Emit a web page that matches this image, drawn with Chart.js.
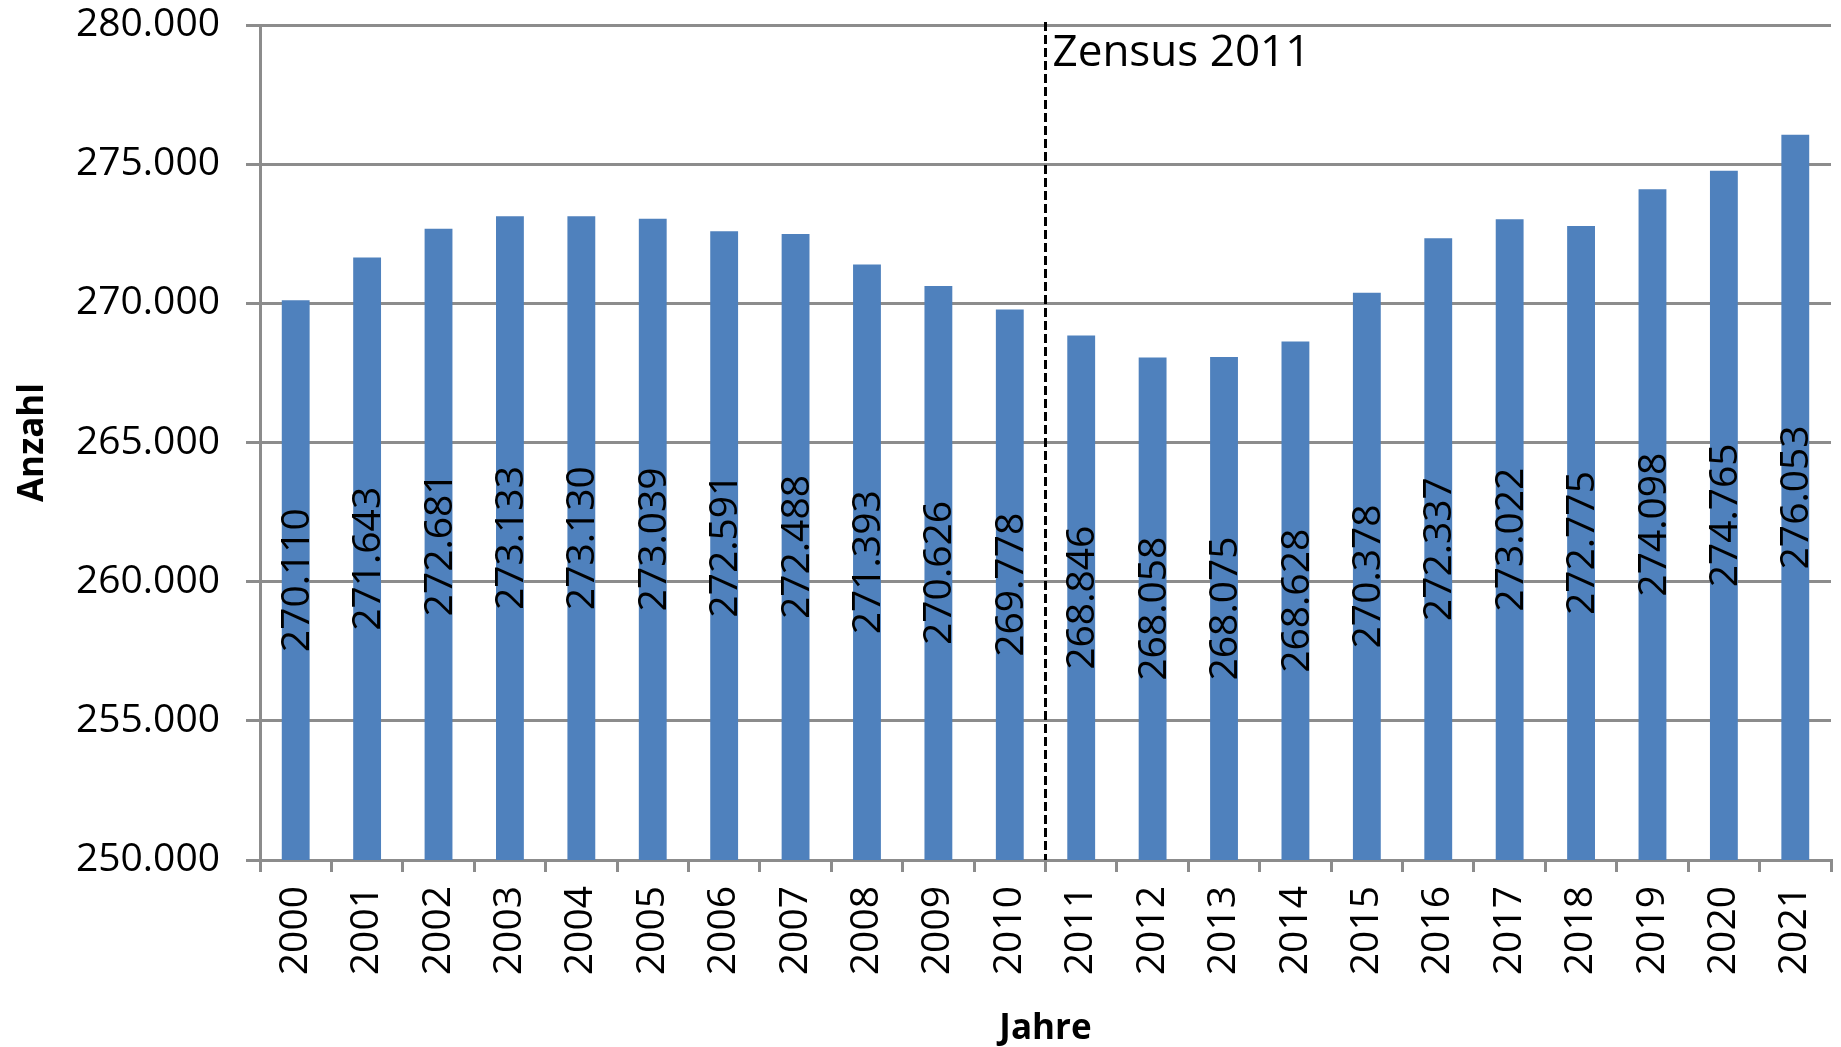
<!DOCTYPE html>
<html>
<head>
<meta charset="utf-8">
<script src="https://cdn.jsdelivr.net/npm/chart.js@4/dist/chart.umd.min.js"></script>
<style>
  body { margin: 0; background: #fff; }
  #wrap { width: 1841px; height: 1047px; }
</style>
</head>
<body>
<div id="wrap"><canvas id="mychart" width="1841" height="1047"></canvas></div>
<script>
var jahre = ['2000','2001','2002','2003','2004','2005','2006','2007','2008','2009','2010',
             '2011','2012','2013','2014','2015','2016','2017','2018','2019','2020','2021'];
var anzahl = [270110, 271643, 272681, 273133, 273130, 273039, 272591, 272488, 271393, 270626, 269778,
              268846, 268058, 268075, 268628, 270378, 272337, 273022, 272775, 274098, 274765, 276053];
var y_min = 250000, y_max = 280000, y_step = 5000;
var zensus_text = 'Zensus 2011';
var zensus_after = 10; // Linie zwischen 2010 und 2011

var font_name = '"Open Sans", "Liberation Sans", sans-serif';
var grau = '#8c8c8c';

function punkt(v){ // deutsche Tausenderpunkte
    return String(Math.round(v)).replace(/\B(?=(\d{3})+(?!\d))/g, '.');
}

// Werte in die Balken schreiben + Zensus-Linie
var extras = {
    id: 'extras',
    afterDatasetsDraw: function(chart){
        var c = chart.ctx;
        var xs = chart.scales.x, ys = chart.scales.y;
        var area = chart.chartArea;
        c.save();
        c.fillStyle = '#000';
        c.font = '39px ' + font_name;
        c.textAlign = 'center';
        c.textBaseline = 'middle';
        for (var i = 0; i < anzahl.length; i++) {
            var bx = xs.getPixelForTick(i);
            var by = (ys.getPixelForValue(anzahl[i]) + ys.getPixelForValue(y_min)) / 2;
            c.save();
            c.translate(bx, by);
            c.rotate(-Math.PI / 2);
            c.fillText(punkt(anzahl[i]), 0, 2);
            c.restore();
        }
        var lx = (xs.getPixelForTick(zensus_after) + xs.getPixelForTick(zensus_after + 1)) / 2;
        c.strokeStyle = '#000';
        c.lineWidth = 3;
        c.setLineDash([9, 4]);
        c.beginPath();
        c.moveTo(lx, area.top - 3);
        c.lineTo(lx, area.bottom);
        c.stroke();
        c.setLineDash([]);
        c.font = '44px ' + font_name;
        c.textAlign = 'left';
        c.textBaseline = 'alphabetic';
        c.fillText(zensus_text, lx + 7, area.top + 41);
        c.restore();
    }
};

var config = {
    type: 'bar',
    data: {
        labels: jahre,
        datasets: [{
            data: anzahl,
            backgroundColor: '#4f81bd',
            barPercentage: 0.39,
            categoryPercentage: 1.0
        }]
    },
    options: {
        responsive: false,
        devicePixelRatio: 1,
        animation: false,
        layout: { padding: { top: 25, right: 10, bottom: 0, left: 12 } },
        plugins: {
            legend: { display: false },
            tooltip: { enabled: false }
        },
        scales: {
            x: {
                afterFit: function(s){ s.height = 187; s.paddingLeft = 0; s.paddingRight = 0; },
                grid: { drawOnChartArea: false, drawTicks: true, tickLength: 12, color: grau, lineWidth: 3, offset: true },
                border: { color: grau, width: 3 },
                ticks: {
                    color: '#000',
                    font: { family: font_name, size: 39 },
                    maxRotation: 90, minRotation: 90,
                    padding: 14,
                    autoSkip: false
                },
                title: {
                    display: true, text: 'Jahre', color: '#000',
                    font: { family: font_name, size: 35, weight: 'bold' },
                    padding: { top: 0, bottom: -3 }
                }
            },
            y: {
                min: y_min, max: y_max,
                afterFit: function(s){ s.width = 248; s.paddingTop = 0; s.paddingBottom = 0; },
                grid: { color: grau, lineWidth: 3, tickLength: 14 },
                border: { color: grau, width: 3 },
                ticks: {
                    stepSize: y_step,
                    color: '#000',
                    font: { family: font_name, size: 39 },
                    padding: 26,
                    callback: function(v){ return punkt(v); }
                },
                title: {
                    display: true, text: 'Anzahl', color: '#000',
                    font: { family: font_name, size: 35, weight: 'bold' },
                    padding: { top: 0, bottom: 0 }
                }
            }
        }
    },
    plugins: [extras]
};
var ctx = document.getElementById('mychart').getContext('2d');
window.myBar = new Chart(ctx, config);
</script>
</body>
</html>
